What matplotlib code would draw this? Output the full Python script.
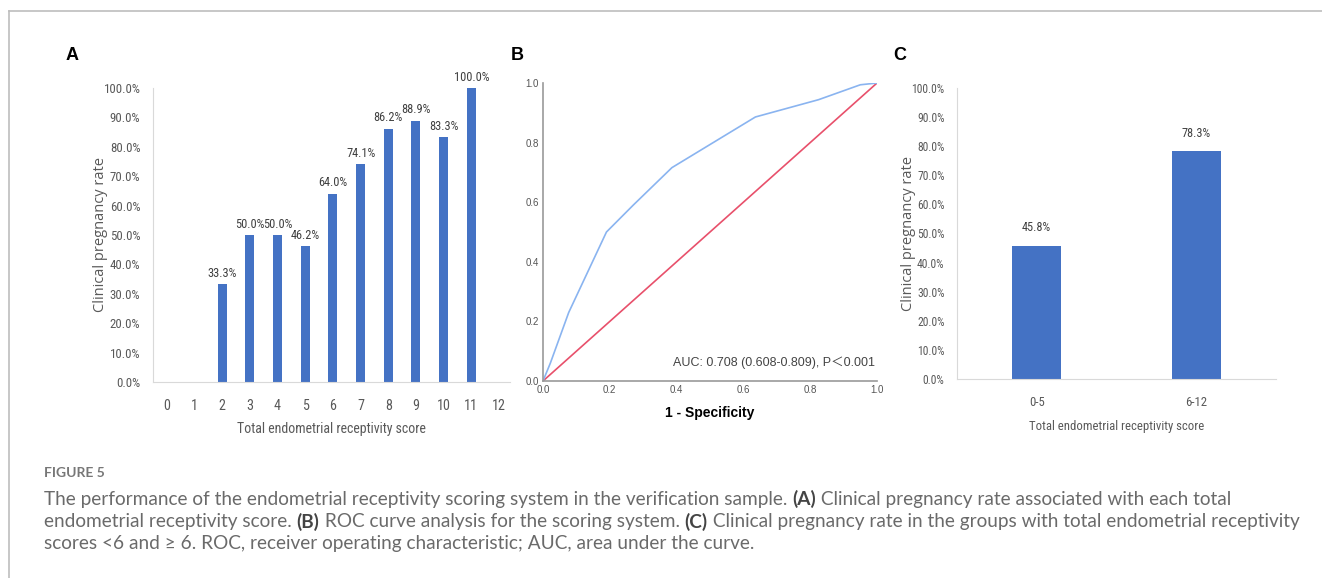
import matplotlib
matplotlib.use("Agg")
import matplotlib.pyplot as plt
from matplotlib.lines import Line2D
from matplotlib import font_manager as fm

W, H = 1322, 578
DPI = 100

# ---------------- data ----------------
scores_a = [0, 1, 2, 3, 4, 5, 6, 7, 8, 9, 10, 11, 12]
rates_a = [None, None, 33.3, 50.0, 50.0, 46.2, 64.0, 74.1, 86.2, 88.9, 83.3, 100.0, None]

roc_fpr = [0.0, 0.022, 0.077, 0.19, 0.27, 0.386, 0.636, 0.825, 0.95, 1.0]
roc_tpr = [0.0, 0.06, 0.23, 0.50, 0.59, 0.716, 0.886, 0.944, 0.994, 1.0]
auc_text = "AUC: 0.708 (0.608-0.809), P\uff1c0.001"

groups_c = ["0-5", "6-12"]
rates_c = [45.8, 78.3]

yticks_pct = [0, 10, 20, 30, 40, 50, 60, 70, 80, 90, 100]
roc_ticks = [0.0, 0.2, 0.4, 0.6, 0.8, 1.0]

caption_title = "FIGURE 5"
caption_lines = [
    [("The performance of the endometrial receptivity scoring system in the verification sample. ", False),
     ("(A)", True), (" Clinical pregnancy rate associated with each total", False)],
    [("endometrial receptivity score. ", False), ("(B)", True),
     (" ROC curve analysis for the scoring system. ", False), ("(C)", True),
     (" Clinical pregnancy rate in the groups with total endometrial receptivity", False)],
    [("scores <6 and \u2265 6. ROC, receiver operating characteristic; AUC, area under the curve.", False)],
]

# ---------------- fonts ----------------
entries = fm.fontManager.ttflist


def is_regular(f):
    return f.style == "normal" and f.weight in (400, "normal", "regular")


narrow_path = None
for cand in ["Liberation Sans Narrow", "Arial Narrow", "Roboto Condensed", "Open Sans Condensed",
             "Noto Sans Condensed", "DejaVu Sans Condensed"]:
    hits = [f for f in entries if f.name == cand and is_regular(f)]
    if hits:
        narrow_path = hits[0].fname
        break
if narrow_path is None:
    hits = [f for f in entries if str(f.stretch) in ("condensed", "semi-condensed", "extra-condensed")
            and is_regular(f)]
    if hits:
        narrow_path = hits[0].fname
NARROW_SCALE = 1.0 if narrow_path is not None else 0.86


def nfp(size):
    if narrow_path is not None:
        return fm.FontProperties(fname=narrow_path, size=size)
    return fm.FontProperties(family="Roboto", size=size * NARROW_SCALE)


BAR = "#4472C4"
GRAY_TXT = "#595959"
ARIAL = ["Liberation Sans", "Noto Sans CJK SC", "DejaVu Sans"]

fig = plt.figure(figsize=(W / DPI, H / DPI), dpi=DPI)


def rect(l, t, r, b):
    return [l / W, 1 - b / H, (r - l) / W, (b - t) / H]


def px(x, y):
    return x / W, 1 - y / H


# figure frame lines
fig.add_artist(Line2D([9 / W, 1.0], [1 - 11 / H, 1 - 11 / H], color="#bdbdbd", lw=1.2))
fig.add_artist(Line2D([9 / W, 9 / W], [0, 1 - 11 / H], color="#bdbdbd", lw=1.2))


def bar_panel(ax, xpos, vals, xlabels, width, lab_pad, xlim, ylab_x, sz):
    # sz: (ytick, barlabel, xtick, xlabel)
    ax.bar(xpos, vals, width=width, color=BAR, zorder=2)
    for x, y in zip(xpos, vals):
        ax.text(x, y + lab_pad, f"{y:.1f}%", ha="center", va="bottom", fontproperties=nfp(sz[1]),
                color="#404040", clip_on=False)
    ax.set_xlim(*xlim)
    ax.set_ylim(0, 100)
    ax.set_yticks(yticks_pct)
    ax.set_yticklabels([f"{v:.1f}%" for v in yticks_pct], fontproperties=nfp(sz[0]), color=GRAY_TXT)
    ax.set_xticks(xpos if len(xlabels) == len(xpos) else list(range(len(xlabels))))
    ax.set_xticklabels(xlabels, fontproperties=nfp(sz[2]), color=GRAY_TXT)
    ax.tick_params(length=0, pad=9)
    ax.tick_params(axis="x", pad=12)
    for s in ["top", "right"]:
        ax.spines[s].set_visible(False)
    for s in ["left", "bottom"]:
        ax.spines[s].set_color("#d9d9d9")
    ax.set_ylabel("Clinical pregnancy rate", family=["Open Sans", "DejaVu Sans"], fontsize=10.5,
                  color=GRAY_TXT)
    ax.yaxis.set_label_coords(ylab_x, 0.5)
    ax.set_xlabel("Total endometrial receptivity score", fontproperties=nfp(sz[3]), color=GRAY_TXT)


# ---------------- panel A ----------------
axA = fig.add_axes(rect(153, 88, 510, 382))
xs = [s for s, r in zip(scores_a, rates_a) if r is not None]
ys = [r for r in rates_a if r is not None]
bar_panel(axA, xs, ys, [], 0.32, 1.5, (-0.5, 12.4), -0.126, (9.3, 8.9, 10, 10))
axA.set_xticks(scores_a)
axA.set_xticklabels([str(s) for s in scores_a], fontproperties=nfp(10.2), color=GRAY_TXT)
axA.xaxis.set_label_coords(0.5, -0.137)
fig.text(*px(66, 55), "A", fontsize=13, fontweight="bold", family=ARIAL, va="center", ha="left")

# ---------------- panel B ----------------
axB = fig.add_axes(rect(543, 83, 877, 381))
axB.plot([0, 1], [0, 1], color="#e8506b", lw=1.2)
axB.plot(roc_fpr, roc_tpr, color="#8ab4f0", lw=1.2)
axB.set_xlim(0, 1)
axB.set_ylim(0, 1)
axB.set_xticks(roc_ticks)
axB.set_yticks(roc_ticks)
axB.set_xticklabels([f"{v:.1f}" for v in roc_ticks], fontsize=7, family=ARIAL, color="#555555")
axB.set_yticklabels([f"{v:.1f}" for v in roc_ticks], fontsize=7, family=ARIAL, color="#555555")
axB.tick_params(length=0, pad=3)
for s in ["top", "right"]:
    axB.spines[s].set_visible(False)
for s in ["left", "bottom"]:
    axB.spines[s].set_color("#999999")
    axB.spines[s].set_linewidth(1.2)
axB.set_xlabel("1 - Specificity", fontsize=10, fontweight="bold", family=ARIAL)
axB.xaxis.set_label_coords(0.5, -0.084)
axB.text(0.995, 0.06, auc_text, transform=axB.transAxes, ha="right", va="center",
         fontsize=9, family=ARIAL, color="#444444")
fig.text(*px(511, 55), "B", fontsize=13, fontweight="bold", family=ARIAL, va="center", ha="left")

# ---------------- panel C ----------------
axC = fig.add_axes(rect(957, 88, 1276, 379))
xc = list(range(len(groups_c)))
bar_panel(axC, xc, rates_c, groups_c, 0.31, 4, (-0.5, 1.5), -0.13, (8.4, 8.8, 9.2, 9.2))
axC.xaxis.set_label_coords(0.5, -0.142)
fig.text(*px(893, 55), "C", fontsize=13, fontweight="bold", family=ARIAL, va="center", ha="left")

# ---------------- caption ----------------
CAP_FONT = ["Lato", "Open Sans", "DejaVu Sans"]
CAP_X = 44
fig.text(*px(CAP_X, 473), caption_title, fontsize=10, family=CAP_FONT, fontweight="bold",
         color="#777777", va="center", ha="left")

fig.canvas.draw()
renderer = fig.canvas.get_renderer()

# fit caption size so the first line spans the reference width
target_w = 1230 - CAP_X
probe_sz = 12.0
tw = 0
for txt, bold in caption_lines[0]:
    t = fig.text(0, 0, txt, fontsize=probe_sz, family=CAP_FONT,
                 fontweight="bold" if bold else "normal")
    tw += t.get_window_extent(renderer=renderer).width
    t.remove()
cap_sz = probe_sz * target_w / tw

line_y = [499, 522, 544]
for yy, parts in zip(line_y, caption_lines):
    x = CAP_X
    for txt, bold in parts:
        t = fig.text(*px(x, yy), txt, fontsize=cap_sz, family=CAP_FONT,
                     color="#444444" if bold else "#6a6a6a",
                     fontweight="bold" if bold else "normal", va="center", ha="left")
        bb = t.get_window_extent(renderer=renderer)
        x += bb.width

fig.savefig("out.png", dpi=DPI)
